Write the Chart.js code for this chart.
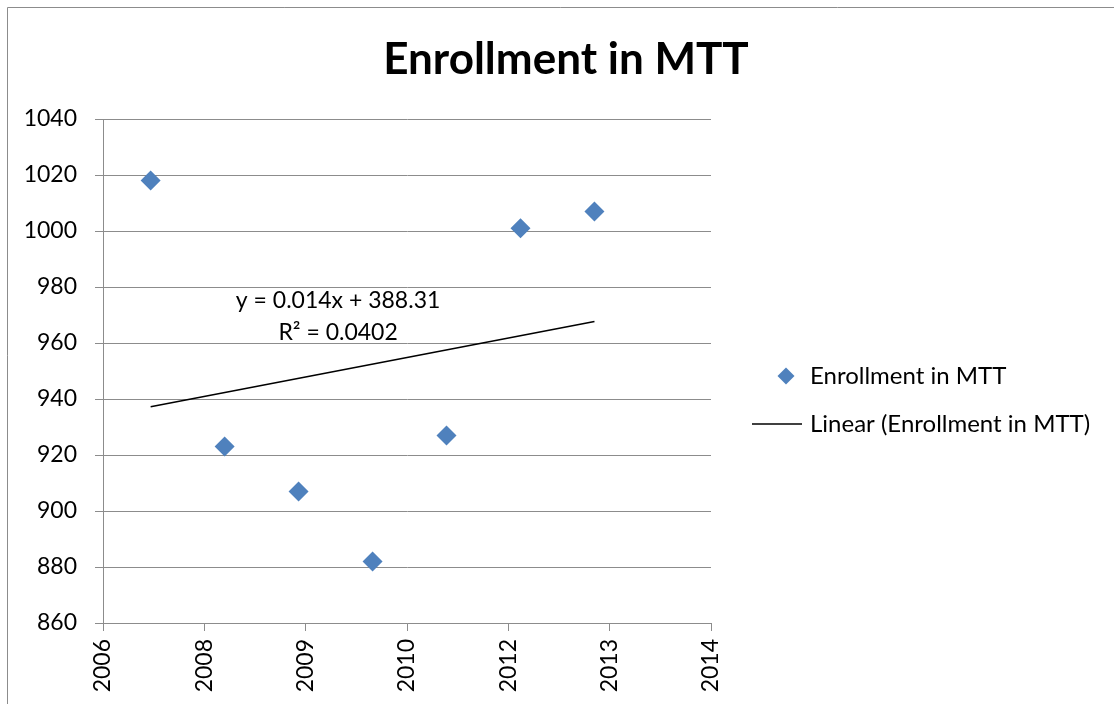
<!DOCTYPE html>
<html>
<head>
<meta charset="utf-8">
<script src="https://cdn.jsdelivr.net/npm/chart.js@4/dist/chart.umd.min.js"></script>
<style>
	body { margin: 0; background: #fff; }
	#wrap { width: 1114px; height: 704px; position: relative; }
</style>
</head>
<body>
<div id="wrap"><canvas id="myChart"></canvas></div>
<script>
// x values are Excel date serials (days), labels show the year
var pointDates = [39235, 39600, 39965, 40330, 40695, 41060, 41425];
var enrollment = [1018, 923, 907, 882, 927, 1001, 1007];
var xTickLabels = ['2006', '2008', '2009', '2010', '2012', '2013', '2014'];
// trendline ends
var trendDates = [39235, 41425];
var trendValues = [937.2, 967.7];
var equationText = ['y = 0.014x + 388.31', 'R² = 0.0402'];

var font = 'Lato, "Noto Sans", sans-serif';
var grey = '#8c8c8c';

var points = [];
for (var i in enrollment) {
	points.push({x: pointDates[i], y: enrollment[i]});
}
var trend = [];
for (var j in trendValues) {
	trend.push({x: trendDates[j], y: trendValues[j]});
}

var extras = {
	id: 'extras',
	beforeDraw: function(chart) {
		var c = chart.ctx;
		c.save();
		c.fillStyle = '#fff';
		c.fillRect(0, 0, chart.width, chart.height);
		c.strokeStyle = grey;
		c.lineWidth = 1;
		c.beginPath();
		c.moveTo(7.5, chart.height);
		c.lineTo(7.5, 7.5);
		c.lineTo(chart.width, 7.5);
		c.stroke();
		c.restore();
	},
	afterDraw: function(chart) {
		var c = chart.ctx;
		var area = chart.chartArea;
		var xs = chart.scales.x, ys = chart.scales.y;
		c.save();
		// title
		c.fillStyle = '#000';
		c.font = 'bold 44px ' + font;
		c.textAlign = 'center';
		c.textBaseline = 'middle';
		c.fillText('Enrollment in MTT', 566, 60);
		// trendline equation
		c.font = '23px ' + font;
		var ex = xs.getPixelForValue(40160);
		c.fillText(equationText[0], ex, ys.getPixelForValue(975));
		c.fillText(equationText[1], ex, ys.getPixelForValue(963.6));
		// legend
		c.font = '24px ' + font;
		var lx = area.right + 75;
		var y1 = 376, y2 = 424;
		c.fillStyle = '#4f81bd';
		c.beginPath();
		c.moveTo(lx, y1 - 8.5);
		c.lineTo(lx + 8.5, y1);
		c.lineTo(lx, y1 + 8.5);
		c.lineTo(lx - 8.5, y1);
		c.closePath();
		c.fill();
		c.strokeStyle = '#000';
		c.lineWidth = 1.5;
		c.beginPath();
		c.moveTo(area.right + 41, y2);
		c.lineTo(area.right + 91, y2);
		c.stroke();
		c.fillStyle = '#000';
		c.textAlign = 'left';
		c.fillText(chart.data.datasets[0].label, area.right + 99, y1);
		c.fillText(chart.data.datasets[1].label, area.right + 99, y2);
		c.restore();
	}
};

var ctx = document.getElementById('myChart');
var chart = new Chart(ctx, {
	type: 'scatter',
	data: {
		datasets: [
			{
				label: 'Enrollment in MTT',
				data: points,
				pointStyle: 'rectRot',
				pointRadius: 10,
				pointHoverRadius: 10,
				backgroundColor: '#4f81bd',
				borderColor: '#4f81bd',
				borderWidth: 0
			},
			{
				label: 'Linear (Enrollment in MTT)',
				type: 'line',
				data: trend,
				borderColor: '#000',
				borderWidth: 1.5,
				pointRadius: 0,
				fill: false
			}
		]
	},
	plugins: [extras],
	options: {
		responsive: true,
		maintainAspectRatio: false,
		animation: false,
		layout: { padding: { top: 119, right: 403, left: 0, bottom: 0 } },
		plugins: {
			legend: { display: false },
			title: { display: false },
			tooltip: { enabled: false }
		},
		scales: {
			x: {
				type: 'linear',
				min: 39000,
				max: 42000,
				afterFit: function(scale) { scale.height = 81; },
				ticks: {
					stepSize: 500,
					minRotation: 90,
					maxRotation: 90,
					padding: 8,
					color: '#000',
					font: { family: font, size: 23 },
					callback: function(value, index) { return xTickLabels[index]; }
				},
				grid: { drawOnChartArea: false, drawTicks: true, tickLength: 8, color: grey },
				border: { color: grey, width: 1 }
			},
			y: {
				min: 860,
				max: 1040,
				afterFit: function(scale) { scale.width = 103; },
				ticks: {
					stepSize: 20,
					padding: 18,
					color: '#000',
					font: { family: font, size: 23 },
					callback: function(value) { return String(value); }
				},
				grid: { color: grey, lineWidth: 1, tickLength: 8 },
				border: { color: grey, width: 1 }
			}
		}
	}
});
</script>
</body>
</html>
